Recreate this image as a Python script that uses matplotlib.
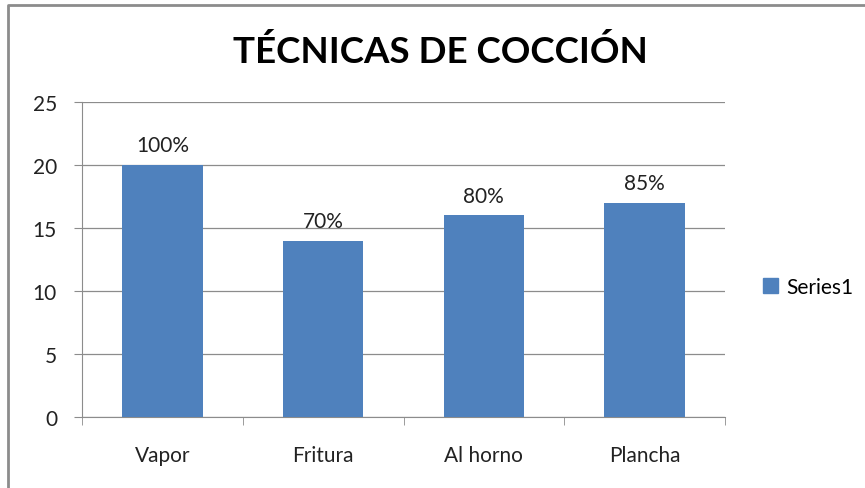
import matplotlib
matplotlib.use("Agg")
import matplotlib.pyplot as plt
from matplotlib.patches import Rectangle
from matplotlib.lines import Line2D

categories = ["Vapor", "Fritura", "Al horno", "Plancha"]
values = [20, 14, 16, 17]
labels = ["100%", "70%", "80%", "85%"]
series_name = "Series1"

plt.rcParams['font.family'] = ['Lato', 'DejaVu Sans']

fig = plt.figure(figsize=(8.65, 4.89), dpi=100)
W, H = 865, 489
# outer border (top and left only visible)
fig.lines.append(Line2D([8/W, 8/W, 1.0], [0, 1-6/H, 1-6/H], transform=fig.transFigure,
                        color='#8c8c8c', linewidth=2))

ax = fig.add_axes([82/W, 1-418/H, (725-82)/W, (418-103)/H])
x = list(range(len(categories)))
ax.bar(x, values, width=0.5, color='#4f81bd', zorder=3)
for xi, v, lab in zip(x, values, labels):
    ax.annotate(lab, (xi, v), xytext=(0, 7), textcoords='offset points',
                ha='center', va='bottom', fontsize=15, color='#222222')

ax.set_xlim(-0.5, len(categories)-0.5)
ax.set_ylim(0, 25)
ax.set_yticks([0, 5, 10, 15, 20, 25])
ax.yaxis.grid(True, color='#8c8c8c', linewidth=0.9, zorder=0)
ax.set_xticks(x)
ax.set_xticklabels(categories, fontsize=15)
ax.tick_params(axis='x', length=0, pad=20)
ax.set_xticks([i + 0.5 for i in range(-1, len(categories))], minor=True)
ax.tick_params(axis='x', which='minor', length=6, color='#8c8c8c')
ax.tick_params(axis='y', length=6, color='#8c8c8c', labelsize=15, pad=12)
for lab in ax.get_yticklabels() + ax.get_xticklabels():
    lab.set_color('#222222')
for s in ['top', 'right']:
    ax.spines[s].set_visible(False)
for s in ['left', 'bottom']:
    ax.spines[s].set_color('#8c8c8c')

fig.text(440/W, 1-52/H, "TÉCNICAS DE COCCIÓN", ha='center', va='center',
         fontsize=26.5, fontweight='bold', color='black')

leg = ax.legend([Rectangle((0, 0), 1, 1, color='#4f81bd')], [series_name],
                loc='center left', bbox_to_anchor=((763-82)/(725-82), (418-288)/315),
                frameon=False, fontsize=15, handlelength=0.7, handleheight=0.7, handletextpad=0.4,
                borderpad=0, borderaxespad=0)

fig.savefig("out.png", dpi=100)
